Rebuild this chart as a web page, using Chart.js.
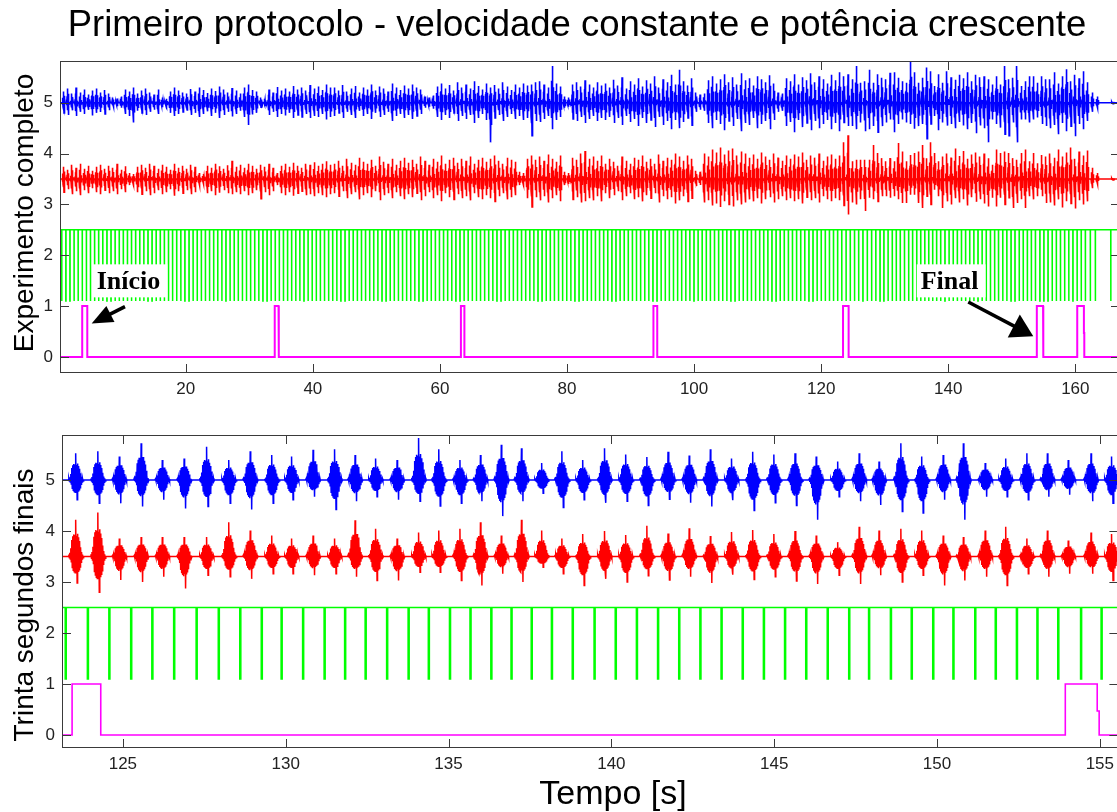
<!DOCTYPE html>
<html>
<head>
<meta charset="utf-8">
<script src="https://cdn.jsdelivr.net/npm/chart.js@4.4.1/dist/chart.umd.min.js"></script>
<style>
  html, body { margin: 0; padding: 0; background: #fff; overflow: hidden; width: 1117px; height: 812px; }
  canvas { position: absolute; left: 0; }
  .lbl { position: absolute; font-family: "Liberation Sans", Arial, sans-serif; color: #000; white-space: nowrap; line-height: 1; }
  .ylab { font-size: 28px; transform: translate(-50%, -50%) rotate(-90deg); }
</style>
</head>
<body>
<canvas id="full" width="1120" height="400" style="top:0;width:1120px;height:400px"></canvas>
<canvas id="last" width="1120" height="412" style="top:400px;width:1120px;height:412px"></canvas>
<div class="lbl" style="left:0;width:1154px;text-align:center;top:6px;font-size:36.5px">Primeiro protocolo - velocidade constante e potência crescente</div>
<div class="lbl ylab" style="left:24px;top:213px">Experimento completo</div>
<div class="lbl ylab" style="left:24px;top:605px">Trinta segundos finais</div>
<div class="lbl" style="left:0;width:1226px;text-align:center;top:775px;font-size:34px">Tempo [s]</div>

<script>
// ---------- recorded signals ----------
// crank trigger pulse times [s] (one per pedal revolution)
const pulseTimes = [
  0.47, 1.12, 1.76, 2.41, 3.05, 3.70, 4.35, 4.99, 5.64, 6.28,
  6.93, 7.58, 8.22, 8.87, 9.52, 10.16, 10.81, 11.45, 12.10, 12.75,
  13.39, 14.04, 14.68, 15.33, 15.98, 16.62, 17.27, 17.91, 18.56, 19.21,
  19.85, 20.50, 21.14, 21.79, 22.44, 23.08, 23.73, 24.38, 25.02, 25.67,
  26.31, 26.96, 27.61, 28.25, 28.90, 29.54, 30.19, 30.84, 31.48, 32.13,
  32.78, 33.42, 34.07, 34.71, 35.36, 36.01, 36.65, 37.30, 37.94, 38.59,
  39.24, 39.88, 40.53, 41.17, 41.82, 42.47, 43.11, 43.76, 44.40, 45.05,
  45.70, 46.34, 46.99, 47.64, 48.28, 48.93, 49.57, 50.22, 50.87, 51.51,
  52.16, 52.80, 53.45, 54.10, 54.74, 55.39, 56.03, 56.68, 57.33, 57.97,
  58.62, 59.27, 59.91, 60.56, 61.20, 61.85, 62.50, 63.14, 63.79, 64.43,
  65.08, 65.73, 66.37, 67.02, 67.66, 68.31, 68.96, 69.60, 70.25, 70.90,
  71.54, 72.19, 72.83, 73.48, 74.13, 74.77, 75.42, 76.06, 76.71, 77.36,
  78.00, 78.65, 79.29, 79.94, 80.59, 81.23, 81.88, 82.52, 83.17, 83.82,
  84.46, 85.11, 85.76, 86.40, 87.05, 87.69, 88.34, 88.99, 89.63, 90.28,
  90.92, 91.57, 92.22, 92.86, 93.51, 94.15, 94.80, 95.45, 96.09, 96.74,
  97.39, 98.03, 98.68, 99.32, 99.97, 100.62, 101.26, 101.91, 102.55, 103.20,
  103.85, 104.49, 105.14, 105.78, 106.43, 107.08, 107.72, 108.37, 109.01, 109.66,
  110.31, 110.95, 111.60, 112.24, 112.89, 113.54, 114.18, 114.83, 115.47, 116.12,
  116.77, 117.41, 118.06, 118.70, 119.35, 120.00, 120.64, 121.29, 121.93, 122.58,
  123.23, 123.91, 124.57, 125.24, 125.89, 126.56, 127.25, 127.93, 128.59, 129.25,
  129.86, 130.52, 131.18, 131.81, 132.44, 133.10, 133.76, 134.38, 135.03, 135.66,
  136.30, 136.92, 137.54, 138.16, 138.80, 139.47, 140.12, 140.77, 141.42, 142.07,
  142.72, 143.37, 144.02, 144.67, 145.32, 145.97, 146.63, 147.29, 147.90, 148.57,
  149.21, 149.87, 150.49, 151.16, 151.79, 152.44, 153.07, 153.71, 154.41, 155.04,
  155.69, 156.35, 157.00, 157.65, 158.31, 158.96, 159.61, 160.27, 160.92, 161.57,
  162.35, 163.14, 165.57
];
const pulseLevels = [2.5, 1.1];      // idle level, pulse level
const burstLag = 0.32;               // EMG burst follows the trigger by this delay [s]

// EMG channel 1 (offset 5): peak excursion above / below baseline per revolution
const blueBase = 5;
const blueUp = [
  0.22,0.28,0.18,0.30,0.20,0.26,0.16,0.24,0.28,0.20, 0.25,0.18,0.10,0.08,0.12,0.26,0.22,0.30,0.18,0.24,
  0.28,0.20,0.16,0.26,0.10,0.08,0.22,0.30,0.24,0.20, 0.18,0.27,0.22,0.30,0.25,0.19,0.28,0.23,0.32,0.26,
  0.20,0.29,0.24,0.18,0.30,0.36,0.25,0.22,0.10,0.08, 0.26,0.20,0.31,0.24,0.28,0.22,0.33,0.26,0.30,0.24,
  0.35,0.28,0.32,0.25,0.36,0.30,
  0.30,0.24,0.35,0.22,0.28,0.33,0.20,0.30,0.26,0.36, 0.24,0.32,0.28,0.22,0.38,0.30,0.25,0.34,0.28,0.36,
  0.30,0.26,0.12,0.10,0.14,0.32,0.38,0.28,0.35,0.24, 0.40,0.30,0.36,0.28,0.42,0.33,0.26,0.38,0.30,0.35,
  0.28,0.40,0.32,0.25,0.36,0.30,0.38,0.34,0.36,0.40, 0.42,0.36,0.30,0.72,0.38,0.32,0.12,0.10,0.36,0.40,
  0.32,0.44,0.36,0.30,0.40,0.34,
  0.38,0.30,0.45,0.34,0.50,0.28,0.42,0.36,0.48,0.32, 0.44,0.38,0.52,0.30,0.46,0.40,0.55,0.36,0.65,0.42,
  0.34,0.48,0.20,0.16,0.18,0.44,0.52,0.38,0.46,0.56, 0.40,0.50,0.36,0.58,0.44,0.48,0.34,0.52,0.46,0.40,
  0.54,0.38,0.20,0.18,0.48,0.42,0.56,0.36,0.50,0.44, 0.58,0.40,0.52,0.46,0.38,0.55,0.44,0.60,
  0.52,0.56,0.46,0.72,0.39,0.42,0.65,0.39,0.56,0.49, 0.46,0.59,0.60,0.49,0.42,0.39,0.82,0.60,0.39,0.49,
  0.69,0.62,0.33,0.56,0.39,0.62,0.50,0.45,0.55,0.48, 0.60,0.42,0.55,0.50,0.52,0.46,0.36,0.52,0.36,0.72,
  0.46,0.49,0.72,0.33,0.42,0.52,0.52,0.39,0.52,0.46,
  0.46,0.60,0.38,0.52,0.66,0.42,0.55,0.48,0.62,0.40, 0.20,0.12,0.02
];
const blueDown = [
  0.20,0.24,0.15,0.26,0.18,0.22,0.14,0.25,0.20,0.18, 0.22,0.15,0.08,0.07,0.10,0.22,0.26,0.39,0.16,0.20,
  0.24,0.18,0.14,0.22,0.09,0.07,0.20,0.26,0.22,0.18, 0.16,0.24,0.20,0.28,0.22,0.17,0.26,0.20,0.30,0.24,
  0.18,0.27,0.22,0.16,0.28,0.44,0.23,0.20,0.09,0.07, 0.24,0.18,0.28,0.22,0.25,0.20,0.30,0.24,0.28,0.22,
  0.30,0.26,0.28,0.22,0.33,0.28,
  0.26,0.20,0.30,0.18,0.24,0.30,0.16,0.26,0.22,0.32, 0.20,0.28,0.24,0.18,0.36,0.26,0.22,0.30,0.24,0.32,
  0.26,0.22,0.10,0.08,0.12,0.28,0.34,0.24,0.30,0.20, 0.36,0.26,0.32,0.24,0.40,0.30,0.22,0.34,0.78,0.30,
  0.24,0.36,0.28,0.22,0.32,0.26,0.34,0.30,0.65,0.36, 0.38,0.32,0.26,0.52,0.34,0.28,0.10,0.08,0.32,0.36,
  0.28,0.40,0.32,0.26,0.36,0.30,
  0.34,0.28,0.40,0.30,0.44,0.26,0.38,0.32,0.46,0.30, 0.40,0.34,0.48,0.28,0.44,0.36,0.52,0.34,0.50,0.38,
  0.30,0.44,0.18,0.14,0.16,0.40,0.50,0.34,0.42,0.54, 0.36,0.46,0.32,0.56,0.40,0.44,0.30,0.50,0.42,0.36,
  0.52,0.34,0.18,0.16,0.46,0.38,0.58,0.34,0.48,0.40, 0.54,0.36,0.50,0.42,0.34,0.52,0.40,0.56,
  0.39,0.46,0.46,0.52,0.39,0.56,0.52,0.46,0.58,0.46, 0.39,0.33,0.58,0.42,0.33,0.39,0.42,0.51,0.46,0.42,
  0.71,0.42,0.26,0.54,0.39,0.45,0.42,0.50,0.38,0.45, 0.52,0.40,0.60,0.45,0.50,0.78,0.33,0.42,0.49,0.62,
  0.65,0.39,0.78,0.33,0.33,0.39,0.33,0.29,0.42,0.46,
  0.50,0.44,0.62,0.40,0.56,0.46,0.66,0.42,0.52,0.36, 0.18,0.10,0.02
];

// EMG channel 2 (offset 3.5)
const redBase = 3.5;
const redUp = [
  0.24,0.18,0.28,0.22,0.30,0.20,0.26,0.16,0.24,0.28, 0.20,0.26,0.22,0.30,0.18,0.25,0.12,0.10,0.24,0.28,
  0.22,0.30,0.26,0.20,0.28,0.24,0.18,0.30,0.22,0.26, 0.20,0.28,0.24,0.12,0.10,0.26,0.22,0.30,0.25,0.20,
  0.27,0.36,0.24,0.28,0.22,0.30,0.26,0.20,0.28,0.24, 0.30,0.22,0.12,0.26,0.30,0.24,0.32,0.26,0.22,0.30,
  0.28,0.33,0.26,0.30,0.35,0.28,
  0.30,0.36,0.26,0.40,0.32,0.28,0.42,0.34,0.30,0.38, 0.26,0.44,0.34,0.30,0.40,0.28,0.36,0.42,0.32,0.38,
  0.30,0.44,0.36,0.28,0.40,0.34,0.46,0.30,0.38,0.42, 0.32,0.40,0.36,0.44,0.30,0.38,0.42,0.34,0.40,0.46,
  0.36,0.30,0.42,0.38,0.34,0.14,0.12,0.40,0.46,0.38, 0.44,0.36,0.48,0.40,0.34,0.46,0.14,0.12,0.42,0.38,
  0.50,0.55,0.40,0.44,0.36,0.46,
  0.30,0.40,0.34,0.26,0.44,0.36,0.30,0.42,0.38,0.46, 0.34,0.40,0.30,0.48,0.36,0.42,0.38,0.50,0.44,0.36,
  0.46,0.40,0.16,0.14,0.50,0.44,0.58,0.52,0.62,0.48, 0.56,0.60,0.46,0.54,0.50,0.42,0.48,0.40,0.52,0.44,
  0.38,0.50,0.42,0.36,0.46,0.40,0.48,0.44,0.52,0.38, 0.46,0.42,0.50,0.36,0.44,0.48,0.40,0.46,
  0.72,0.86,0.35,0.38,0.38,0.38,0.38,0.67,0.51,0.41, 0.35,0.41,0.35,0.71,0.54,0.35,0.47,0.51,0.54,0.67,
  0.41,0.72,0.51,0.35,0.44,0.50,0.42,0.60,0.45,0.55, 0.40,0.48,0.52,0.44,0.50,0.41,0.28,0.58,0.51,0.54,
  0.51,0.41,0.38,0.51,0.58,0.35,0.51,0.31,0.47,0.44,
  0.50,0.42,0.58,0.44,0.52,0.62,0.40,0.54,0.46,0.56, 0.22,0.12,0.02
];
const redDown = [
  0.26,0.20,0.30,0.24,0.32,0.22,0.28,0.18,0.26,0.30, 0.22,0.28,0.24,0.30,0.20,0.26,0.12,0.10,0.26,0.30,
  0.24,0.32,0.28,0.22,0.30,0.26,0.20,0.33,0.24,0.28, 0.22,0.30,0.26,0.12,0.10,0.28,0.24,0.32,0.27,0.22,
  0.28,0.30,0.26,0.30,0.24,0.32,0.28,0.22,0.39,0.26, 0.32,0.24,0.12,0.28,0.32,0.26,0.33,0.28,0.24,0.32,
  0.30,0.34,0.28,0.32,0.36,0.30,
  0.28,0.34,0.24,0.38,0.30,0.26,0.40,0.32,0.28,0.36, 0.24,0.42,0.32,0.28,0.38,0.26,0.34,0.40,0.30,0.36,
  0.28,0.42,0.34,0.26,0.38,0.32,0.44,0.28,0.36,0.40, 0.30,0.38,0.34,0.42,0.28,0.36,0.40,0.32,0.38,0.44,
  0.34,0.28,0.40,0.36,0.32,0.12,0.10,0.38,0.55,0.36, 0.42,0.34,0.46,0.38,0.32,0.44,0.12,0.10,0.40,0.36,
  0.46,0.44,0.38,0.42,0.34,0.44,
  0.28,0.38,0.32,0.24,0.42,0.34,0.28,0.40,0.36,0.44, 0.32,0.38,0.28,0.46,0.34,0.40,0.36,0.48,0.42,0.34,
  0.44,0.38,0.14,0.12,0.46,0.42,0.52,0.48,0.55,0.44, 0.50,0.54,0.42,0.50,0.46,0.40,0.44,0.38,0.48,0.40,
  0.36,0.46,0.40,0.34,0.42,0.38,0.44,0.40,0.48,0.36, 0.42,0.38,0.46,0.34,0.40,0.44,0.38,0.42,
  0.52,0.70,0.46,0.50,0.40,0.63,0.37,0.40,0.44,0.34, 0.34,0.37,0.34,0.40,0.47,0.47,0.31,0.31,0.47,0.57,
  0.34,0.50,0.21,0.34,0.57,0.44,0.50,0.38,0.46,0.40, 0.52,0.36,0.45,0.40,0.48,0.54,0.37,0.54,0.37,0.50,
  0.37,0.57,0.47,0.40,0.57,0.34,0.40,0.34,0.34,0.47,
  0.46,0.52,0.40,0.56,0.44,0.48,0.58,0.42,0.50,0.44, 0.18,0.10,0.02
];

// protocol marker (0 / 1) switch-on and switch-off times [s]
const markerOn   = [3.70, 34.00, 63.30, 93.60, 123.44, 153.94, 160.30];
const markerOff  = [4.50, 34.60, 63.85, 94.20, 124.32, 154.92, 161.35];
const markerStep = [0, 0.47, 0, 0, 0, 0.47, 0.47];   // brief half level while switching off (0 = none)
const markerLevels = [0, 1];

// single-burst envelope (fraction of the peak), taken from one typical contraction
const shapeOffsets = [-0.21,-0.18,-0.15,-0.12,-0.09,-0.06,-0.03,0,0.03,0.06,0.09,0.12,0.15,0.18,0.21];
const shapeUp      = [0.05,0.10,0.22,0.45,0.55,0.60,0.58,1.00,0.56,0.62,0.52,0.42,0.25,0.12,0.05];
const shapeDown    = [0.05,0.10,0.20,0.42,0.52,0.58,0.62,0.55,1.00,0.56,0.50,0.40,0.22,0.10,0.05];

const recordSpan = [0, 168];

// axis ticks
const fullXTicks = [20, 40, 60, 80, 100, 120, 140, 160];
const lastXTicks = [125, 130, 135, 140, 145, 150, 155];
const yTicks = [0, 1, 2, 3, 4, 5];

// ---------- trace builders ----------
function emgTrace(base, up, down) {
  const pts = [{x: recordSpan[0], y: base}];
  const n = Math.min(pulseTimes.length, up.length, down.length);
  const first = shapeOffsets[0], last = shapeOffsets[shapeOffsets.length - 1];
  for (let k = 0; k < n; k++) {
    const c = pulseTimes[k] + burstLag;
    pts.push({x: c + first - 0.02, y: base});
    for (let i = 0; i < shapeOffsets.length; i++) {
      pts.push({x: c + shapeOffsets[i], y: base + up[k] * shapeUp[i]});
      pts.push({x: c + shapeOffsets[i] + 0.015, y: base - down[k] * shapeDown[i]});
    }
    pts.push({x: c + last + 0.035, y: base});
  }
  pts.push({x: recordSpan[1], y: base});
  return pts;
}
function pulseTrace() {
  const [hi, lo] = pulseLevels, w = 0.03;
  const pts = [{x: recordSpan[0], y: hi}];
  pulseTimes.forEach(t => {
    pts.push({x: t, y: hi}, {x: t, y: lo}, {x: t + w, y: lo}, {x: t + w, y: hi});
  });
  pts.push({x: recordSpan[1], y: hi});
  return pts;
}
function markerTrace() {
  const [lo, hi] = markerLevels;
  const pts = [{x: recordSpan[0], y: lo}];
  markerOn.forEach((on, i) => {
    const off = markerOff[i];
    pts.push({x: on, y: lo}, {x: on, y: hi}, {x: off, y: hi});
    if (markerStep[i]) {
      pts.push({x: off, y: markerStep[i]}, {x: off + 0.06, y: markerStep[i]}, {x: off + 0.06, y: lo});
    } else {
      pts.push({x: off, y: lo});
    }
  });
  pts.push({x: recordSpan[1], y: lo});
  return pts;
}

const FONT = '"Liberation Sans", Arial, sans-serif';

// box, inward ticks on all four sides
const frameTicks = {
  id: 'frameTicks',
  afterDatasetsDraw(chart) {
    const {ctx, chartArea: a, scales: {x, y}} = chart;
    const L = 9;
    ctx.save();
    ctx.strokeStyle = '#3a3a3a';
    ctx.lineWidth = 1;
    ctx.strokeRect(Math.round(a.left) + 0.5, Math.round(a.top) + 0.5,
                   Math.round(a.right - a.left) - 1, Math.round(a.bottom - a.top) - 1);
    ctx.beginPath();
    x.ticks.forEach(t => {
      const p = Math.round(x.getPixelForValue(t.value)) + 0.5;
      ctx.moveTo(p, a.top); ctx.lineTo(p, a.top + L);
      ctx.moveTo(p, a.bottom); ctx.lineTo(p, a.bottom - L);
    });
    y.ticks.forEach(t => {
      const p = Math.round(y.getPixelForValue(t.value)) + 0.5;
      ctx.moveTo(a.left, p); ctx.lineTo(a.left + L, p);
      ctx.moveTo(a.right, p); ctx.lineTo(a.right - L, p);
    });
    ctx.stroke();
    ctx.restore();
  }
};

// labelled arrows ("Início", "Final")
function notesPlugin(notes) {
  return {
    id: 'notes',
    afterDraw(chart) {
      const {ctx, scales: {x, y}} = chart;
      ctx.save();
      notes.forEach(n => {
        const x0 = x.getPixelForValue(n.from[0]), y0 = y.getPixelForValue(n.from[1]);
        const x1 = x.getPixelForValue(n.to[0]),   y1 = y.getPixelForValue(n.to[1]);
        const ang = Math.atan2(y1 - y0, x1 - x0), head = n.head, half = n.half;
        const bx = x1 - head * Math.cos(ang), by = y1 - head * Math.sin(ang);
        ctx.strokeStyle = '#000';
        ctx.lineWidth = 3.5;
        ctx.beginPath(); ctx.moveTo(x0, y0); ctx.lineTo(bx + 2 * Math.cos(ang), by + 2 * Math.sin(ang)); ctx.stroke();
        ctx.fillStyle = '#000';
        ctx.beginPath();
        ctx.moveTo(x1, y1);
        ctx.lineTo(bx + half * Math.sin(ang), by - half * Math.cos(ang));
        ctx.lineTo(bx - half * Math.sin(ang), by + half * Math.cos(ang));
        ctx.closePath(); ctx.fill();
        ctx.font = 'bold 26px "Liberation Serif", "Times New Roman", serif';
        const tx = x.getPixelForValue(n.at[0]), ty = y.getPixelForValue(n.at[1]);
        const w = ctx.measureText(n.text).width;
        ctx.fillStyle = '#fff';
        ctx.fillRect(tx - 4, ty - 25, w + 11, 33);
        ctx.fillStyle = '#000';
        ctx.textBaseline = 'alphabetic';
        ctx.fillText(n.text, tx, ty);
      });
      ctx.restore();
    }
  };
}

function makeChart(id, o) {
  const tickFont = {family: FONT, size: 17};
  return new Chart(document.getElementById(id), {
    type: 'line',
    data: {
      datasets: [
        {data: emgTrace(blueBase, blueUp, blueDown), borderColor: '#0000ff', borderWidth: o.emgWidth},
        {data: emgTrace(redBase, redUp, redDown), borderColor: '#ff0000', borderWidth: o.emgWidth},
        {data: pulseTrace(), borderColor: '#00ff00', borderWidth: o.pulseWidth},
        {data: markerTrace(), borderColor: '#ff00ff', borderWidth: o.markerWidth}
      ].map(d => Object.assign(d, {pointRadius: 0, fill: false, tension: 0, parsing: false, normalized: true}))
    },
    options: {
      responsive: false,
      animation: false,
      devicePixelRatio: 1,
      events: [],
      layout: {padding: {top: o.padTop, right: 0, bottom: 0, left: 0}},
      plugins: {legend: {display: false}, tooltip: {enabled: false}, title: {display: false}},
      scales: {
        x: {
          type: 'linear', min: o.xMin, max: o.xMax,
          afterBuildTicks: s => { s.ticks = o.xTicks.map(v => ({value: v})); },
          afterFit: s => { s.height = o.xAxisHeight; },
          grid: {display: false, drawTicks: false}, border: {display: false},
          ticks: {padding: 6, color: '#222', font: tickFont, maxRotation: 0, autoSkip: false, callback: v => String(v)}
        },
        y: {
          type: 'linear', min: o.yMin, max: o.yMax,
          afterBuildTicks: s => { s.ticks = yTicks.map(v => ({value: v})); },
          afterFit: s => { s.width = o.yAxisWidth; },
          grid: {display: false, drawTicks: false}, border: {display: false},
          ticks: {padding: 7, color: '#222', font: tickFont, autoSkip: false, callback: v => String(v)}
        }
      }
    },
    plugins: [frameTicks, notesPlugin(o.notes || [])]
  });
}

// whole experiment
makeChart('full', {
  xMin: 0.205, xMax: 167.03, yMin: -0.315, yMax: 5.82,
  xTicks: fullXTicks, padTop: 61, xAxisHeight: 27, yAxisWidth: 60,
  emgWidth: 1.6, pulseWidth: 1.5, markerWidth: 2,
  notes: [
    {text: 'Início', at: [5.98, 1.33], from: [10.43, 0.99], to: [5.19, 0.66], head: 21, half: 9},
    {text: 'Final',  at: [135.67, 1.33], from: [143.15, 1.08], to: [153.38, 0.41], head: 22, half: 13}
  ]
});

// last thirty seconds
makeChart('last', {
  xMin: 123.13, xMax: 155.57, yMin: -0.255, yMax: 5.88,
  xTicks: lastXTicks, padTop: 35, xAxisHeight: 64, yAxisWidth: 62,
  emgWidth: 1.5, pulseWidth: 1.6, markerWidth: 1.6
});
</script>
</body>
</html>
